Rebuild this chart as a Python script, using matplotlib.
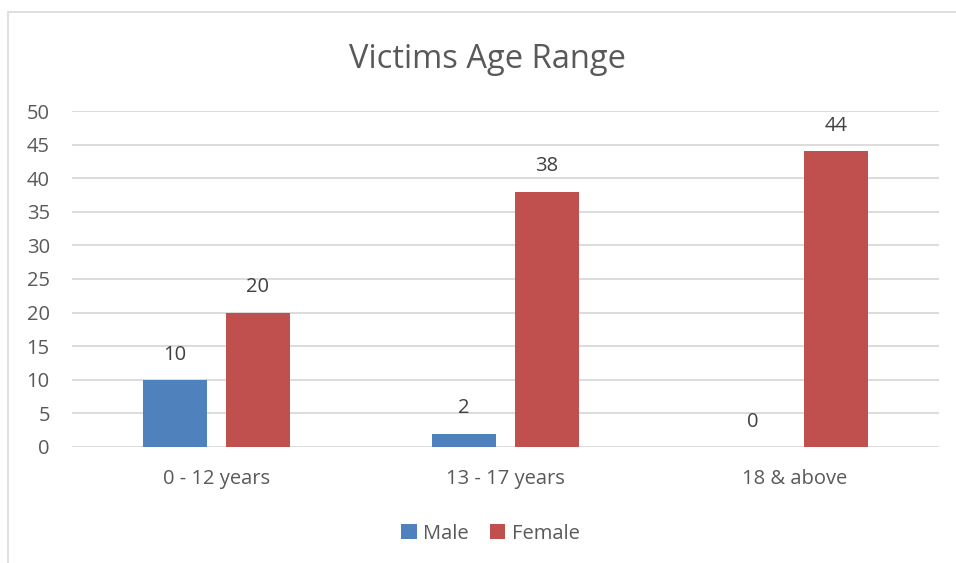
import matplotlib.pyplot as plt
import numpy as np
from matplotlib.patches import Rectangle

plt.rcParams['font.family'] = ['Open Sans', 'DejaVu Sans']

categories = ['0 - 12 years', '13 - 17 years', '18 & above']
male = [10, 2, 0]
female = [20, 38, 44]
yticks = [0, 5, 10, 15, 20, 25, 30, 35, 40, 45, 50]

blue = '#4F81BD'
red = '#C0504D'
grey_text = '#595959'

fig = plt.figure(figsize=(9.56, 5.63), dpi=100)
# light chart border (only left and top show in the picture)
fig.patches.append(Rectangle((8 / 956, -0.1), 1.2, (563 - 12) / 563 + 0.1,
                             transform=fig.transFigure, fill=False,
                             edgecolor='#D9D9D9', linewidth=1.2))

ax = fig.add_axes([72 / 956, 116 / 563, 867 / 956, 336 / 563])

x = np.arange(len(categories))
w = 0.223
off = 0.143
b1 = ax.bar(x - off, male, w, color=blue, label='Male', zorder=3)
b2 = ax.bar(x + off, female, w, color=red, label='Female', zorder=3)

for bars in (b1, b2):
    for bar in bars:
        h = bar.get_height()
        ax.annotate(f'{h:g}', (bar.get_x() + bar.get_width() / 2, h),
                    xytext=(0, 11), textcoords='offset points',
                    ha='center', va='bottom', fontsize=14.5, color='#404040')

ax.set_xlim(-0.5, 2.5)
ax.set_ylim(0, 50)
ax.set_yticks(yticks)
ax.set_xticks(x)
ax.set_xticklabels(categories)
ax.yaxis.grid(True, color='#D9D9D9', linewidth=1.3, zorder=0)
ax.set_axisbelow(True)
for s in ax.spines.values():
    s.set_visible(False)
ax.tick_params(axis='both', length=0, labelsize=14.5, colors=grey_text)
ax.tick_params(axis='y', pad=16)
ax.tick_params(axis='x', pad=16)

fig.text(0.51, 0.895, 'Victims Age Range', ha='center', va='center',
         fontsize=23.5, color=grey_text)

fig.legend(loc='center', bbox_to_anchor=(0.513, 0.052), ncol=2, frameon=False,
           fontsize=14.5, handlelength=0.75, handleheight=0.75, handletextpad=0.3,
           columnspacing=1.1, labelcolor=grey_text)

fig.savefig('out.png', dpi=100)
